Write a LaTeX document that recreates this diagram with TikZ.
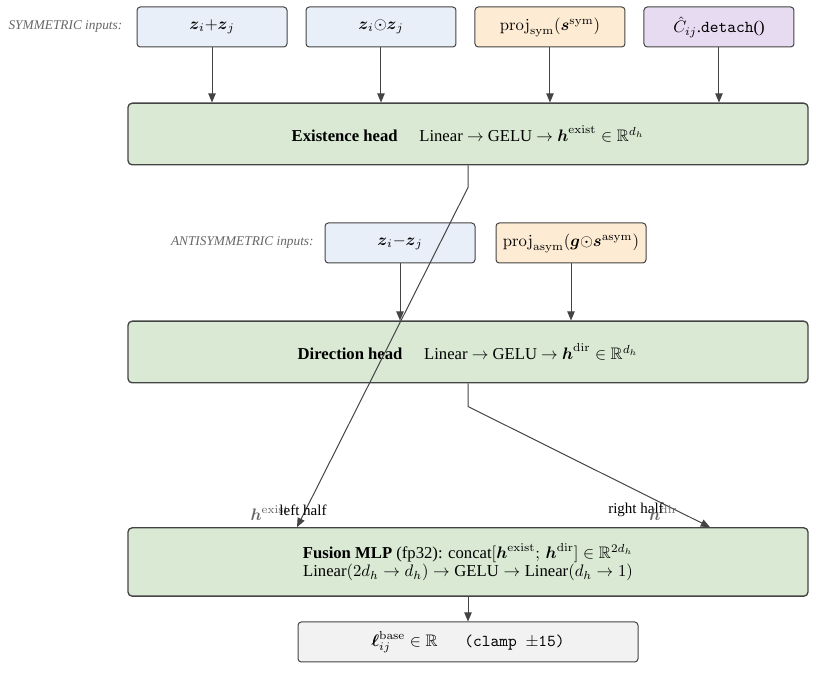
\documentclass[tikz,border=0pt]{standalone}
\usepackage{amsmath,amssymb}
\usepackage[no-math]{fontspec}
\setmainfont{Liberation Serif}
\usepackage{xcolor}
\usetikzlibrary{arrows.meta,positioning,calc}

\definecolor{symfill}{HTML}{E8EFF8}
\definecolor{projfill}{HTML}{FDEBD3}
\definecolor{detfill}{HTML}{E6DBF0}
\definecolor{headfill}{HTML}{D9E9D3}
\definecolor{outfill}{HTML}{F2F2F2}
\definecolor{edgegray}{HTML}{444444}
\definecolor{lblgray}{HTML}{666666}

\begin{document}
\begin{tikzpicture}[
x=0.6pt, y=-0.6pt,
inbox/.style={draw=edgegray, rounded corners=2pt, align=center, minimum width=90pt, minimum height=24pt, fill=symfill, line width=0.6pt},
projbox/.style={inbox, fill=projfill},
detbox/.style={inbox, fill=detfill},
headbox/.style={draw=edgegray, rounded corners=2.5pt, align=center, minimum width=408pt, minimum height=37pt, fill=headfill, line width=0.8pt},
outbox/.style={inbox, fill=outfill, minimum width=204pt},
grouplbl/.style={font=\footnotesize\itshape, text=lblgray},
srclbl/.style={text=lblgray, inner sep=0pt},
halflbl/.style={font=\small, inner sep=0pt},
arrow/.style={-{Triangle[length=5.5pt,width=4.5pt]}, draw=edgegray, line width=0.6pt}
]
\useasboundingbox (0,0) rectangle (816,678);
% symmetric inputs
\node[inbox] (zsum) at (212,27) {$\boldsymbol{z}_i{+}\boldsymbol{z}_j$};
\node[inbox, right=10.8pt of zsum] (zprod) {$\boldsymbol{z}_i{\odot}\boldsymbol{z}_j$};
\node[projbox, right=10.8pt of zprod] (projsym) {$\mathrm{proj}_{\mathrm{sym}}(\boldsymbol{s}^{\mathrm{sym}})$};
\node[detbox, right=10.8pt of projsym] (cdet) {$\hat{C}_{ij}$.\texttt{detach}()};
\node[grouplbl, left=5pt of zsum] (symlbl) {SYMMETRIC inputs:};
% heads
\node[headbox] (exist) at (468,134) {\textbf{Existence head}\hspace{1.3em}Linear $\to$ GELU $\to$ $\boldsymbol{h}^{\mathrm{exist}}\in\mathbb{R}^{d_h}$};
\node[inbox] (zdiff) at (400,243) {$\boldsymbol{z}_i{-}\boldsymbol{z}_j$};
\node[projbox, right=12pt of zdiff] (projasym) {$\mathrm{proj}_{\mathrm{asym}}(\boldsymbol{g}{\odot}\boldsymbol{s}^{\mathrm{asym}})$};
\node[grouplbl, left=3pt of zdiff] (antilbl) {ANTISYMMETRIC inputs:};
\node[headbox] (dir) at (468,352) {\textbf{Direction head}\hspace{1.3em}Linear $\to$ GELU $\to$ $\boldsymbol{h}^{\mathrm{dir}}\in\mathbb{R}^{d_h}$};
\node[headbox, minimum height=41pt] (fusion) at (468,562) {\textbf{Fusion MLP} (fp32): concat$[\boldsymbol{h}^{\mathrm{exist}};\,\boldsymbol{h}^{\mathrm{dir}}]\in\mathbb{R}^{2d_h}$\\[-1pt]
Linear$(2d_h\to d_h)\to{}$GELU${}\to{}$Linear$(d_h\to1)$};
\node[outbox] (logit) at (468,642) {$\boldsymbol{\ell}_{ij}^{\mathrm{base}}\in\mathbb{R}$\hspace{1.6em}\texttt{(clamp $\pm$15)}};
% inputs into heads
\foreach \src in {zsum,zprod,projsym,cdet}
  \draw[arrow] (\src) -- (\src |- exist.north);
\foreach \src in {zdiff,projasym}
  \draw[arrow] (\src) -- (\src |- dir.north);
% heads into fusion
\coordinate (existbend) at ($(exist.south)+(0,22)$);
\coordinate (leftin) at ($(fusion.north)+(-171,0)$);
\coordinate (dirbend) at ($(dir.south)+(0,23)$);
\coordinate (rightin) at ($(fusion.north)+(242,0)$);
\draw[arrow] (exist.south) -- (existbend) -- (leftin);
\draw[arrow] (dir.south) -- (dirbend) -- (rightin);
\node[srclbl, anchor=base east] (hexist) at (290,521) {$\boldsymbol{h}^{\mathrm{exist}}$};
\node[halflbl, anchor=base] (lefthalf) at (303,516) {left half};
\node[halflbl, anchor=base] (righthalf) at (636,514) {right half};
\node[srclbl, anchor=base west] (hdir) at (649,521) {$\boldsymbol{h}^{\mathrm{dir}}$};
\draw[arrow] (fusion) -- (logit);
\end{tikzpicture}
\end{document}
